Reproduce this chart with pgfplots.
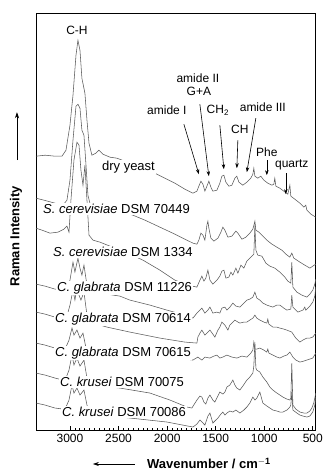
\documentclass[border=0pt]{standalone}
\usepackage{fontspec}
\setmainfont{Liberation Sans}
\usepackage{pgfplots}
\pgfplotsset{compat=1.18}
\usetikzlibrary{arrows.meta}
\begin{document}
\begin{tikzpicture}
\begin{axis}[
  at={(0pt,0pt)}, anchor=south west,
  scale only axis, width=280pt, height=417.3pt,
  xmin=469, xmax=3350, ymin=0, ymax=417.3,
  x dir=reverse,
  axis line style={line width=0.9pt},
  xtick={500,1000,1500,2000,2500,3000},
  minor x tick num=9,
  xtick pos=left, ytick=\empty,
  tick align=inside,
  major tick length=4pt, minor tick length=2.5pt,
  every tick/.style={black, line width=0.6pt},
  xticklabel style={font=\fontsize{12}{14}\selectfont, yshift=-1pt},
  /pgf/number format/assume math mode=true,
  /pgf/number format/1000 sep={},
  every axis plot post/.style={line width=0.55pt, color=black!65, solid, mark=none},
]
% dry yeast
\addplot coordinates {(3350,274)(3257,275)(3154,274)(3082,274)(3041,280)(3000,305)(2969,335)(2938,375)(2918,390)(2897,380)(2877,352)(2846,337)(2825,310)(2804,287)(2774,275)(2733,277)(2702,280)(2660,276)(2588,273)(2516,272)(2383,267)(2228,262)(2125,257)(2022,252)(1920,247)(1817,241)(1734,237)(1693,239)(1673,244)(1652,249)(1631,246)(1611,239)(1590,244)(1570,249)(1549,243)(1529,239)(1487,240)(1457,247)(1436,254)(1415,255)(1395,248)(1364,244)(1333,245)(1302,252)(1282,254)(1261,248)(1220,245)(1179,248)(1138,252)(1117,256)(1107,262)(1096,254)(1066,252)(1035,254)(1004,250)(963,247)(921,245)(901,246)(891,252)(880,244)(839,242)(798,239)(757,236)(736,245)(726,234)(685,231)(633,227)(592,223)(572,225)(561,220)(520,216)(469,213)};
% S. cerevisiae DSM 70449
\addplot coordinates {(3350,232)(3268,230)(3154,227)(3072,225)(3031,230)(3000,250)(2969,290)(2938,324)(2918,326)(2897,322)(2877,300)(2856,295)(2835,265)(2815,235)(2784,223)(2733,224)(2691,222)(2537,220)(2352,215)(2228,210)(2074,203)(1920,196)(1817,191)(1734,187)(1693,186)(1673,190)(1652,197)(1631,195)(1611,190)(1590,205)(1580,209)(1570,202)(1549,192)(1518,189)(1477,192)(1446,198)(1426,203)(1405,200)(1374,193)(1333,194)(1292,199)(1271,197)(1230,191)(1189,193)(1148,197)(1117,201)(1096,209)(1086,200)(1055,198)(1014,194)(973,190)(921,186)(870,183)(819,180)(777,176)(736,173)(716,177)(695,172)(633,168)(582,165)(530,162)(500,164)(469,166)};
% S. cerevisiae DSM 1334
\addplot coordinates {(3350,202)(3288,200)(3206,197)(3124,198)(3062,201)(3031,204)(3010,198)(2990,230)(2959,270)(2928,288)(2907,285)(2887,260)(2866,245)(2846,265)(2825,230)(2804,195)(2763,190)(2691,188)(2537,182)(2383,176)(2249,170)(2074,160)(1920,150)(1786,145)(1693,143)(1662,150)(1642,154)(1621,149)(1601,152)(1580,160)(1559,150)(1529,146)(1487,150)(1457,154)(1436,159)(1415,160)(1395,152)(1364,153)(1343,158)(1323,155)(1292,162)(1271,157)(1240,165)(1210,162)(1179,169)(1148,172)(1117,175)(1107,176)(1096,205)(1086,180)(1066,175)(1024,174)(983,167)(942,164)(891,162)(839,158)(788,153)(757,149)(726,147)(716,168)(705,143)(664,138)(613,135)(561,133)(530,136)(500,140)(479,146)(469,151)};
% C. glabrata DSM 11226
\addplot coordinates {(3350,146)(3257,144)(3154,141)(3072,140)(3031,141)(3000,150)(2969,168)(2949,158)(2918,172)(2897,162)(2877,155)(2856,165)(2825,145)(2794,140)(2691,137)(2486,134)(2383,130)(2177,125)(2002,120)(1817,115)(1734,112)(1693,117)(1662,120)(1642,122)(1611,117)(1580,120)(1559,123)(1529,117)(1487,118)(1457,117)(1436,122)(1405,123)(1384,120)(1354,123)(1323,127)(1292,124)(1251,123)(1210,127)(1179,130)(1148,131)(1117,133)(1096,138)(1076,132)(1045,130)(1014,127)(973,125)(942,124)(911,123)(870,125)(839,125)(798,122)(767,120)(726,121)(716,135)(705,123)(685,121)(654,118)(602,120)(582,123)(572,120)(530,124)(500,128)(479,134)(469,143)};
% C. glabrata DSM 70614
\addplot coordinates {(3350,118)(3257,116)(3154,113)(3072,112)(3031,114)(3000,125)(2969,140)(2949,130)(2928,142)(2907,135)(2887,130)(2856,138)(2825,115)(2794,108)(2691,105)(2619,103)(2383,98)(2074,92)(1817,88)(1693,87)(1683,93)(1662,97)(1642,100)(1611,95)(1590,97)(1559,100)(1529,96)(1508,93)(1477,100)(1457,103)(1436,108)(1405,105)(1374,100)(1354,105)(1323,108)(1302,110)(1271,108)(1251,107)(1210,108)(1179,108)(1148,110)(1117,112)(1096,115)(1076,112)(1045,110)(1004,108)(973,107)(963,111)(952,106)(911,103)(870,103)(839,102)(798,101)(767,100)(716,98)(675,92)(633,88)(602,90)(561,92)(530,92)(500,93)(469,97)};
% C. glabrata DSM 70615
\addplot coordinates {(3350,87)(3257,85)(3154,82)(3072,81)(3041,83)(3010,90)(2979,102)(2959,95)(2928,100)(2897,92)(2866,97)(2835,82)(2794,78)(2691,77)(2383,76)(2074,74)(1734,70)(1683,73)(1642,70)(1611,73)(1559,72)(1518,74)(1487,75)(1457,72)(1426,73)(1384,75)(1333,73)(1282,72)(1230,74)(1179,73)(1138,77)(1117,80)(1107,88)(1096,81)(1076,81)(1045,82)(1004,80)(973,78)(963,81)(952,77)(911,75)(870,73)(839,72)(798,74)(767,75)(736,78)(705,73)(675,70)(633,68)(592,69)(561,70)(530,71)(500,72)(469,77)};
% C. krusei DSM 70075
\addplot coordinates {(3350,57)(3257,55)(3154,52)(3072,50)(3041,52)(3010,60)(2979,75)(2959,65)(2928,72)(2897,64)(2856,70)(2825,52)(2794,46)(2691,44)(2486,42)(2177,37)(1971,30)(1796,23)(1745,22)(1693,30)(1662,34)(1642,33)(1621,28)(1601,26)(1580,32)(1559,35)(1529,30)(1508,28)(1477,34)(1457,38)(1426,36)(1405,38)(1384,43)(1354,45)(1323,50)(1302,45)(1282,42)(1251,40)(1220,44)(1179,50)(1148,53)(1117,57)(1107,64)(1096,88)(1086,62)(1076,60)(1045,58)(1014,53)(973,48)(942,43)(911,40)(870,37)(839,35)(808,33)(767,31)(736,30)(726,32)(716,67)(705,25)(675,21)(633,18)(592,17)(561,17)(530,19)(510,22)(490,27)(469,37)};
% C. krusei DSM 70086
\addplot coordinates {(3350,27)(3257,25)(3154,22)(3072,21)(3041,23)(3010,30)(2979,45)(2959,37)(2928,42)(2897,35)(2856,40)(2825,25)(2794,18)(2691,15)(2383,12)(2002,8)(1734,3)(1693,6)(1662,10)(1631,7)(1611,5)(1580,14)(1559,17)(1529,7)(1498,10)(1477,12)(1446,16)(1426,18)(1405,15)(1384,17)(1354,19)(1323,18)(1292,20)(1251,17)(1210,20)(1179,23)(1148,27)(1117,33)(1096,30)(1076,32)(1045,38)(1014,27)(973,24)(942,22)(911,20)(870,19)(839,18)(808,18)(767,20)(736,23)(726,25)(716,38)(705,20)(664,17)(633,15)(602,14)(561,13)(530,14)(500,18)(479,25)(469,33)};
\end{axis}
% sample labels (white boxes hide the spectra behind them)
\begin{scope}[every node/.style={fill=white, inner sep=1pt, anchor=west, font=\fontsize{13}{15}\selectfont}]
\node at (65pt,263pt) {dry yeast};
\node at (6pt,221pt) {\textit{S. cerevisiae} DSM 70449};
\node at (16pt,178pt) {\textit{S. cerevisiae} DSM 1334};
\node at (20pt,142pt) {\textit{C. glabrata} DSM 11226};
\node at (18pt,111pt) {\textit{C. glabrata} DSM 70614};
\node at (18pt,77pt) {\textit{C. glabrata} DSM 70615};
\node at (23pt,48pt) {\textit{C. krusei} DSM 70075};
\node at (25pt,18pt) {\textit{C. krusei} DSM 70086};
\end{scope}
% band annotations
\begin{scope}[every node/.style={inner sep=1pt, font=\fontsize{12}{14}\selectfont}]
\node at (41pt,400pt) {C-H};
\node at (162pt,352pt) {amide II};
\node at (163pt,339pt) {G+A};
\node at (131pt,320pt) {amide I};
\node at (182pt,320pt) {CH\textsubscript{2}};
\node at (227pt,323pt) {amide III};
\node at (204pt,301pt) {CH};
\node at (231pt,278pt) {Phe};
\node at (256pt,265pt) {quartz};
\end{scope}
\begin{scope}[-{Stealth[length=5pt,width=3.5pt]}, line width=0.6pt]
\draw (148pt,306pt) -- (163pt,256pt);
\draw (164pt,326pt) -- (173pt,254pt);
\draw (184pt,305pt) -- (188pt,261pt);
\draw (202pt,290pt) -- (201pt,262pt);
\draw (220pt,312pt) -- (211pt,258pt);
\draw (231pt,270pt) -- (231pt,255pt);
\draw (250pt,257pt) -- (250pt,236pt);
\end{scope}
% axis titles with arrows
\node[rotate=90, font=\fontsize{13}{15}\selectfont\bfseries] at (-20pt,194pt) {Raman Intensity};
\draw[-{Stealth[length=6pt,width=4pt]}, line width=0.6pt] (-19pt,270pt) -- (-19pt,318pt);
\node[anchor=base, inner sep=0pt, font=\fontsize{13}{15}\selectfont\bfseries] at (173pt,-38.5pt) {Wavenumber / cm$^{\mathbf{-1}}$};
\draw[-{Stealth[length=6pt,width=4pt]}, line width=0.6pt] (99pt,-34pt) -- (57pt,-34pt);
\pgfresetboundingbox
\path[use as bounding box] (-36pt,-41pt) rectangle (291pt,430.3pt);
\end{tikzpicture}
\end{document}
